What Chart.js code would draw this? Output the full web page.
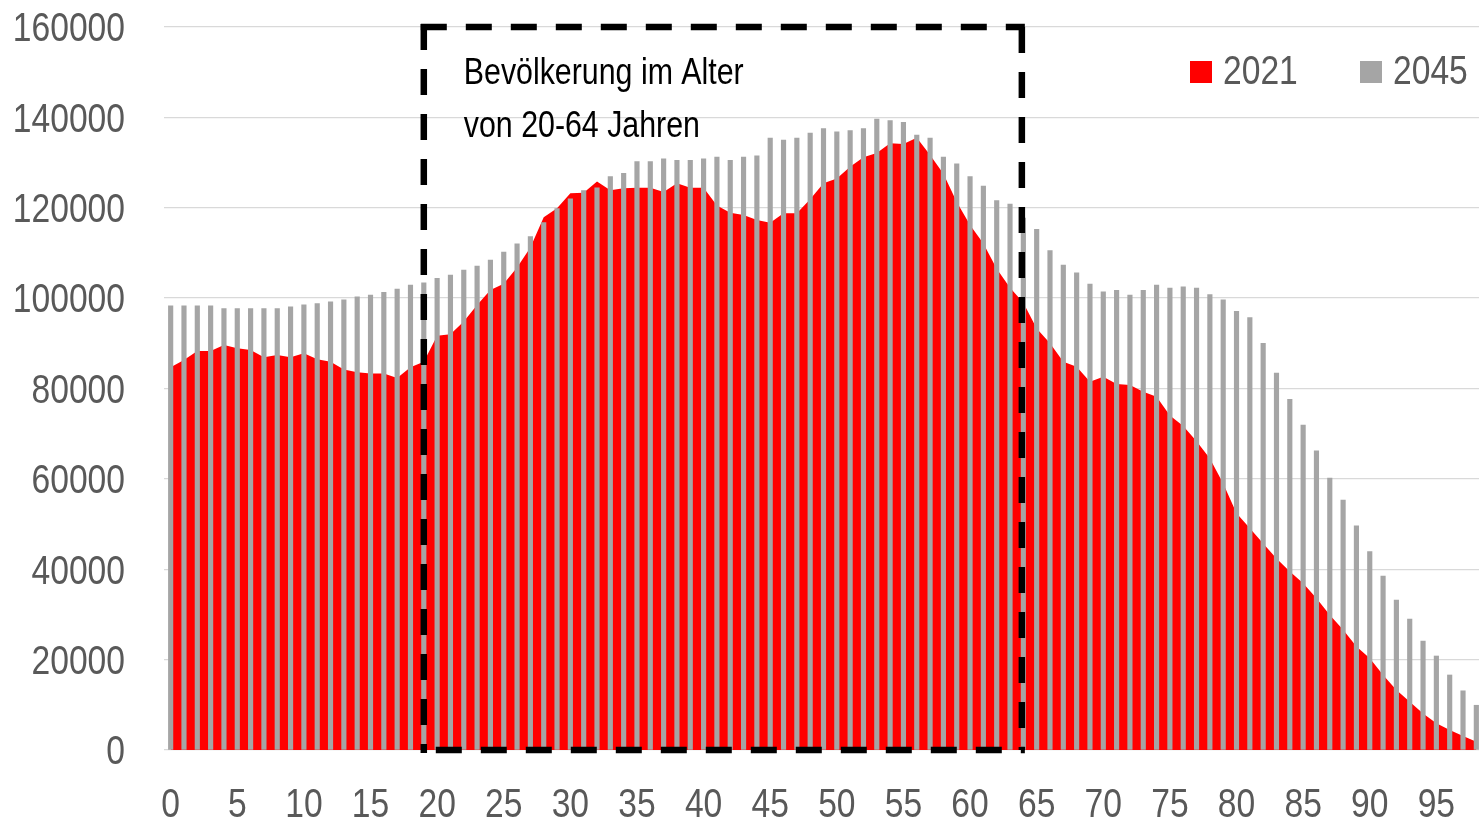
<!DOCTYPE html>
<html>
<head>
<meta charset="utf-8">
<script src="https://cdn.jsdelivr.net/npm/chart.js@4.4.1/dist/chart.umd.min.js"></script>
<style>
  html, body { margin: 0; padding: 0; overflow: hidden; background: #fff; }
  #wrap { width: 1483px; height: 820px; position: relative; }
</style>
</head>
<body>
<div id="wrap"><canvas id="c"></canvas></div>
<script>
// Ages (categories)
const ages = [0,1,2,3,4,5,6,7,8,9,10,11,12,13,14,15,16,17,18,19,20,21,22,23,24,25,26,27,28,29,30,31,32,33,34,35,36,37,38,39,40,41,42,43,44,45,46,47,48,49,50,51,52,53,54,55,56,57,58,59,60,61,62,63,64,65,66,67,68,69,70,71,72,73,74,75,76,77,78,79,80,81,82,83,84,85,86,87,88,89,90,91,92,93,94,95,96,97,98];

// Population 2021 (red area)
const pop2021 = [84700,86300,88300,88300,89600,88900,88500,86900,87400,86900,
  87800,86500,85900,84200,83600,83300,83300,82300,84700,85900,
  91700,92000,94800,98500,101800,103200,106800,111200,117900,119900,
  123200,123300,125800,123900,124300,124400,124400,123500,125400,124400,
  124400,120500,118900,118400,117300,116700,118800,118800,121900,125400,
  126500,129100,131200,132100,134300,134100,135500,131700,127500,121300,
  116200,112100,106500,102300,99000,93300,90000,85900,84800,81500,
  82600,81000,80800,79300,78200,74000,71700,68300,64500,59000,
  52400,49100,45700,42400,39500,36900,33600,29900,26600,22900,
  20300,16600,13300,10700,8100,5900,4400,3100,1800];

// Population 2045 (grey bars)
const pop2045 = [98300,98300,98300,98300,97700,97700,97700,97700,97700,98100,
  98500,98800,99200,99600,100300,100700,101300,102000,102900,103400,
  104400,105100,106200,107100,108400,110200,112000,113600,116700,119800,
  122000,123800,124400,126900,127600,130200,130200,130800,130500,130500,
  130800,131200,130500,131200,131500,135400,135000,135400,136500,137500,
  136800,137100,137500,139600,139300,138900,136100,135400,131200,129700,
  126900,124800,121600,120800,117700,115200,110500,107300,105600,103100,
  101400,101700,100700,101700,102900,102200,102500,102200,100800,99600,
  97100,95700,90000,83400,77600,71900,66200,60200,55300,49600,
  43900,38500,33200,29000,24100,20800,16600,13100,9900];

// Y tick values
const yTicks = [0,20000,40000,60000,80000,100000,120000,140000,160000];

// Annotation
const boxAges = [19, 64];
const boxText = ["Bevölkerung im Alter", "von 20-64 Jahren"];

const FONT = "'Liberation Sans', Arial, sans-serif";
Chart.defaults.font.family = FONT;

const canvas = document.getElementById('c');
const ctx2d = canvas.getContext('2d');
// Emulate a narrow (Arial Narrow-like) face: condense text horizontally around its anchor.
const origFillText = ctx2d.fillText.bind(ctx2d);
ctx2d.fillText = function(text, x, y, maxWidth) {
  this.save();
  this.translate(x, y);
  this.scale(0.82, 1);
  if (maxWidth !== undefined) origFillText(text, 0, 0, maxWidth / 0.82);
  else origFillText(text, 0, 0);
  this.restore();
};

const overlayPlugin = {
  id: 'overlay',
  afterDatasetsDraw(chart) {
    const ctx = chart.ctx;
    const xs = chart.scales.x, ys = chart.scales.y;
    const x1 = xs.getPixelForValue(boxAges[0]);
    const x2 = xs.getPixelForValue(boxAges[1]) - 1.5;
    const y1 = ys.getPixelForValue(160000);
    const y2 = ys.getPixelForValue(0);
    ctx.save();
    ctx.strokeStyle = '#000';
    ctx.lineWidth = 6.5;
    ctx.setLineDash([26, 19]);
    ctx.lineCap = 'butt';
    const seg = (ax, ay, bx, by) => { ctx.beginPath(); ctx.moveTo(ax, ay); ctx.lineTo(bx, by); ctx.stroke(); };
    seg(x1 - 3, y1, x2 + 3, y1);
    seg(x2, y1, x2, y2);
    seg(x1, y1 - 3, x1, y2 + 3);
    ctx.lineDashOffset = -12;
    seg(x1, y2, x2 + 3, y2);
    ctx.restore();

    // text
    ctx.save();
    ctx.fillStyle = '#000';
    ctx.font = "37px " + FONT;
    ctx.textBaseline = 'alphabetic';
    ctx.textAlign = 'left';
    ctx.fillText(boxText[0], x1 + 40, 84);
    ctx.fillText(boxText[1], x1 + 40, 137);
    ctx.restore();

    // legend
    ctx.save();
    ctx.font = "41px " + FONT;
    ctx.textBaseline = 'middle';
    ctx.textAlign = 'left';
    const items = [
      {x: 1190, ds: chart.data.datasets[1]},
      {x: 1360, ds: chart.data.datasets[0]}
    ];
    items.forEach(it => {
      ctx.fillStyle = it.ds.backgroundColor;
      ctx.fillRect(it.x, 61, 22, 22);
      ctx.fillStyle = '#595959';
      ctx.fillText(it.ds.label, it.x + 33, 73);
    });
    ctx.restore();
  }
};

function zeroPad(scale) {
  scale.paddingTop = 0; scale.paddingBottom = 0;
  scale.paddingLeft = 0; scale.paddingRight = 0;
}

new Chart(canvas, {
  type: 'bar',
  data: {
    labels: ages,
    datasets: [
      {
        type: 'bar',
        label: '2045',
        data: pop2045,
        backgroundColor: '#a5a5a5',
        barThickness: 4.5,
        order: 1
      },
      {
        type: 'line',
        label: '2021',
        data: pop2021,
        backgroundColor: '#ff0000',
        borderColor: '#ff0000',
        borderWidth: 0,
        pointRadius: 0,
        tension: 0,
        fill: 'origin',
        order: 2
      }
    ]
  },
  options: {
    responsive: true,
    maintainAspectRatio: false,
    animation: false,
    layout: { padding: { top: 27, right: 0, left: 0, bottom: 0 } },
    plugins: { legend: { display: false }, tooltip: { enabled: false } },
    scales: {
      x: {
        type: 'category',
        offset: true,
        grid: { display: false, drawTicks: false },
        border: { display: false },
        ticks: {
          autoSkip: false,
          maxRotation: 0,
          padding: 31,
          color: '#595959',
          font: { size: 41 },
          callback: function(v, i) { return ages[i] % 5 === 0 ? String(ages[i]) : ''; }
        },
        afterFit(scale) { scale.height = 70; zeroPad(scale); }
      },
      y: {
        min: 0,
        max: 160000,
        afterBuildTicks(scale) { scale.ticks = yTicks.map(v => ({ value: v })); },
        grid: { color: '#d9d9d9', lineWidth: 1.3, drawTicks: false },
        border: { display: false },
        ticks: {
          padding: 39,
          labelOffset: 3,
          color: '#595959',
          font: { size: 41 },
          callback: v => String(v)
        },
        afterFit(scale) { scale.width = 164; zeroPad(scale); }
      }
    }
  },
  plugins: [overlayPlugin]
});
</script>
</body>
</html>
